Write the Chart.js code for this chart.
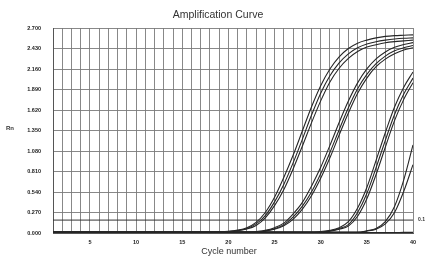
<!DOCTYPE html>
<html><head><meta charset="utf-8">
<script src="https://cdn.jsdelivr.net/npm/chart.js@4/dist/chart.umd.min.js"></script>
<style>html,body{margin:0;padding:0;background:#fff}#wrap{width:427px;height:257px}</style>
</head><body><div id="wrap"><canvas id="c" width="427" height="257"></canvas></div>
<script>
const cycles = [1,2,3,4,5,6,7,8,9,10,11,12,13,14,15,16,17,18,19,20,21,22,23,24,25,26,27,28,29,30,31,32,33,34,35,36,37,38,39,40];
const yTicks = [0, 0.27, 0.54, 0.81, 1.08, 1.35, 1.62, 1.89, 2.16, 2.43, 2.7];
const xTickLabels = [5, 10, 15, 20, 25, 30, 35, 40];
const threshold = 0.17;
const thresholdLabel = "0.1";

const seriesA1 = [0.010,0.010,0.010,0.010,0.010,0.010,0.010,0.010,0.010,0.010,0.010,0.010,0.010,0.010,0.010,0.010,0.010,0.012,0.015,0.022,0.038,0.07,0.14,0.27,0.47,0.73,1.02,1.34,1.66,1.94,2.16,2.32,2.43,2.50,2.54,2.57,2.59,2.60,2.605,2.61];
const seriesA2 = [0.012,0.012,0.012,0.012,0.012,0.012,0.012,0.012,0.012,0.012,0.012,0.012,0.012,0.012,0.012,0.012,0.012,0.013,0.015,0.02,0.033,0.06,0.12,0.23,0.41,0.64,0.92,1.23,1.55,1.84,2.07,2.24,2.36,2.44,2.49,2.52,2.54,2.555,2.565,2.57];
const seriesA3 = [0.008,0.008,0.008,0.008,0.008,0.008,0.008,0.008,0.008,0.008,0.008,0.008,0.008,0.008,0.008,0.008,0.008,0.010,0.013,0.018,0.03,0.052,0.10,0.20,0.36,0.57,0.84,1.14,1.45,1.74,1.99,2.17,2.30,2.39,2.45,2.48,2.505,2.52,2.53,2.54];
const seriesB1 = [0.010,0.010,0.010,0.010,0.010,0.010,0.010,0.010,0.010,0.010,0.010,0.010,0.010,0.010,0.010,0.010,0.010,0.010,0.010,0.010,0.010,0.010,0.02,0.035,0.07,0.13,0.25,0.40,0.617,0.865,1.154,1.456,1.738,1.977,2.161,2.293,2.385,2.445,2.483,2.508];
const seriesB2 = [0.012,0.012,0.012,0.012,0.012,0.012,0.012,0.012,0.012,0.012,0.012,0.012,0.012,0.012,0.012,0.012,0.012,0.012,0.012,0.012,0.012,0.012,0.012,0.03,0.055,0.11,0.21,0.35,0.54,0.78,1.06,1.36,1.65,1.90,2.09,2.23,2.33,2.40,2.44,2.47];
const seriesB3 = [0.008,0.008,0.008,0.008,0.008,0.008,0.008,0.008,0.008,0.008,0.008,0.008,0.008,0.008,0.008,0.008,0.008,0.008,0.008,0.008,0.008,0.008,0.008,0.025,0.05,0.095,0.18,0.31,0.49,0.72,0.99,1.29,1.58,1.84,2.04,2.19,2.29,2.36,2.41,2.44];
const seriesC1 = [0.010,0.010,0.010,0.010,0.010,0.010,0.010,0.010,0.010,0.010,0.010,0.010,0.010,0.010,0.010,0.010,0.010,0.010,0.010,0.010,0.010,0.010,0.010,0.010,0.010,0.010,0.010,0.010,0.010,0.02,0.035,0.07,0.15,0.33,0.60,0.957,1.321,1.659,1.921,2.12];
const seriesC2 = [0.012,0.012,0.012,0.012,0.012,0.012,0.012,0.012,0.012,0.012,0.012,0.012,0.012,0.012,0.012,0.012,0.012,0.012,0.012,0.012,0.012,0.012,0.012,0.012,0.012,0.012,0.012,0.012,0.012,0.012,0.03,0.06,0.11,0.27,0.52,0.86,1.22,1.56,1.83,2.04];
const seriesC3 = [0.008,0.008,0.008,0.008,0.008,0.008,0.008,0.008,0.008,0.008,0.008,0.008,0.008,0.008,0.008,0.008,0.008,0.008,0.008,0.008,0.008,0.008,0.008,0.008,0.008,0.008,0.008,0.008,0.008,0.008,0.025,0.05,0.09,0.22,0.45,0.77,1.13,1.48,1.76,1.98];
const seriesD1 = [0.010,0.010,0.010,0.010,0.010,0.010,0.010,0.010,0.010,0.010,0.010,0.010,0.010,0.010,0.010,0.010,0.010,0.010,0.010,0.010,0.010,0.010,0.010,0.010,0.010,0.010,0.010,0.010,0.010,0.010,0.010,0.010,0.010,0.010,0.03,0.06,0.15,0.35,0.70,1.16];
const seriesD2 = [0.012,0.012,0.012,0.012,0.012,0.012,0.012,0.012,0.012,0.012,0.012,0.012,0.012,0.012,0.012,0.012,0.012,0.012,0.012,0.012,0.012,0.012,0.012,0.012,0.012,0.012,0.012,0.012,0.012,0.012,0.012,0.012,0.012,0.012,0.025,0.05,0.12,0.27,0.55,0.90];
const seriesNTC = [0.002,0.003,0.004,0.005,0.005,0.005,0.005,0.005,0.005,0.005,0.005,0.005,0.005,0.005,0.005,0.005,0.005,0.005,0.005,0.005,0.005,0.005,0.005,0.005,0.005,0.005,0.005,0.005,0.005,0.005,0.005,0.006,0.006,0.006,0.006,0.007,0.007,0.007,0.008,0.008];

const curves = [seriesA1, seriesA2, seriesA3, seriesB1, seriesB2, seriesB3, seriesC1, seriesC2, seriesC3, seriesD1, seriesD2, seriesNTC];

const datasets = curves.map(s => ({
  data: cycles.map((c, i) => ({x: c, y: s[i]})),
  borderColor: '#262626',
  borderWidth: 1.1,
  pointRadius: 0,
  fill: false,
  cubicInterpolationMode: 'monotone'
}));
datasets.push({
  data: [{x: cycles[0], y: threshold}, {x: cycles[cycles.length-1], y: threshold}],
  borderColor: '#333',
  borderWidth: 1,
  pointRadius: 0,
  fill: false
});

const textPlugin = {
  id: 'texts',
  afterDraw(chart) {
    const ctx = chart.ctx, a = chart.chartArea;
    const ys = chart.scales.y;
    ctx.save();
    ctx.fillStyle = '#333';
    ctx.textAlign = 'center';
    ctx.textBaseline = 'middle';
    ctx.font = '10.5px "Liberation Sans", Arial, sans-serif';
    ctx.fillText('Amplification Curve', 218, 15);
    ctx.font = '9px "Liberation Sans", Arial, sans-serif';
    ctx.fillText('Cycle number', 229, 252);
    ctx.font = 'bold 6px "Liberation Sans", Arial, sans-serif';
    ctx.fillText('Rn', 10, (a.top + a.bottom) / 2 - 2);
    ctx.textAlign = 'left';
    ctx.font = 'bold 5px "Liberation Sans", Arial, sans-serif';
    ctx.fillText(thresholdLabel, a.right + 5, ys.getPixelForValue(threshold));
    ctx.restore();
  }
};

new Chart(document.getElementById('c'), {
  type: 'line',
  data: { datasets },
  options: {
    responsive: false,
    animation: false,
    devicePixelRatio: 1,
    layout: { padding: { top: 28, right: 14, left: 0, bottom: 0 } },
    plugins: { legend: { display: false }, title: { display: false }, tooltip: { enabled: false } },
    scales: {
      x: {
        type: 'linear', min: 1, max: 40,
        afterBuildTicks: s => { s.ticks = cycles.map(v => ({value: v})); },
        afterFit: s => { s.height = 24; },
        ticks: {
          autoSkip: false, maxRotation: 0, padding: 6,
          color: '#222', font: { size: 5.5, weight: 'bold', family: '"Liberation Sans", Arial' },
          callback: v => xTickLabels.includes(v) ? String(v) : ''
        },
        grid: { color: '#7a7a7a', lineWidth: 0.9, drawTicks: false },
        border: { color: '#555', width: 1 }
      },
      y: {
        min: 0, max: 2.7,
        afterBuildTicks: s => { s.ticks = yTicks.map(v => ({value: v})); },
        afterFit: s => { s.width = 53; },
        ticks: {
          padding: 12, color: '#222',
          font: { size: 5.5, weight: 'bold', family: '"Liberation Sans", Arial' },
          callback: v => Number(v).toFixed(3)
        },
        grid: { color: '#7a7a7a', lineWidth: 0.9, drawTicks: false },
        border: { color: '#555', width: 1 }
      }
    }
  },
  plugins: [textPlugin]
});
</script>
</body></html>
